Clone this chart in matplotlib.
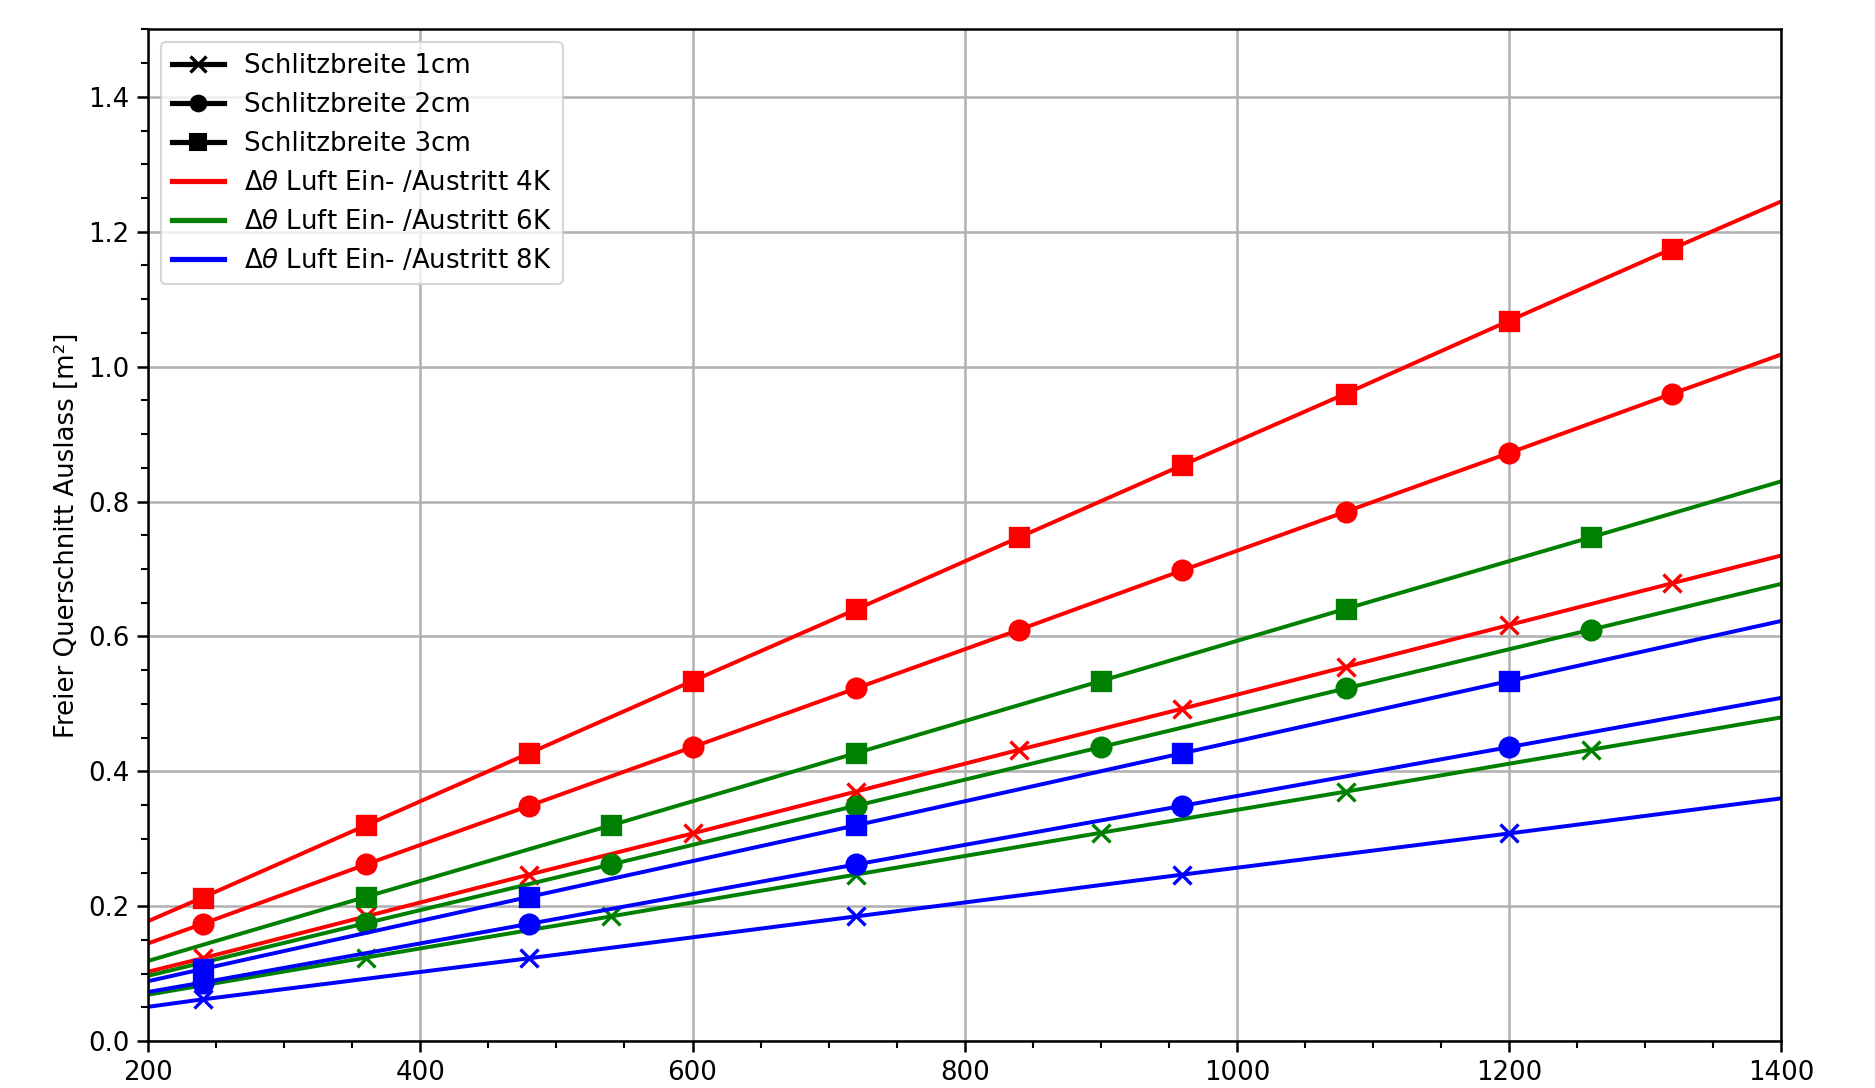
import matplotlib
matplotlib.use("Agg")
import matplotlib.pyplot as plt
from matplotlib.lines import Line2D

x_4k = [200, 240, 360, 480, 600, 720, 840, 960, 1080, 1200, 1320, 1400]
y_4k_1cm = [0.103, 0.123, 0.185, 0.247, 0.308, 0.370, 0.432, 0.493, 0.555, 0.617, 0.679, 0.720]
y_4k_2cm = [0.145, 0.174, 0.262, 0.349, 0.436, 0.523, 0.610, 0.698, 0.785, 0.872, 0.960, 1.018]
y_4k_3cm = [0.178, 0.213, 0.320, 0.427, 0.534, 0.640, 0.747, 0.854, 0.960, 1.068, 1.175, 1.245]

x_6k = [200, 360, 540, 720, 900, 1080, 1260, 1400]
y_6k_1cm = [0.069, 0.124, 0.185, 0.247, 0.309, 0.370, 0.432, 0.480]
y_6k_2cm = [0.097, 0.175, 0.262, 0.349, 0.436, 0.523, 0.610, 0.678]
y_6k_3cm = [0.119, 0.214, 0.320, 0.427, 0.534, 0.641, 0.747, 0.830]

x_8k = [200, 240, 480, 720, 960, 1200, 1400]
y_8k_1cm = [0.051, 0.062, 0.123, 0.185, 0.247, 0.308, 0.360]
y_8k_2cm = [0.073, 0.087, 0.174, 0.262, 0.349, 0.436, 0.509]
y_8k_3cm = [0.089, 0.107, 0.214, 0.320, 0.427, 0.534, 0.623]

series = [
    ("red", x_4k, [y_4k_1cm, y_4k_2cm, y_4k_3cm]),
    ("green", x_6k, [y_6k_1cm, y_6k_2cm, y_6k_3cm]),
    ("blue", x_8k, [y_8k_1cm, y_8k_2cm, y_8k_3cm]),
]
markers = ["x", "o", "s"]

fig = plt.figure(figsize=(12.5, 1088 / 150), dpi=150)
ax = fig.add_axes([0.079, 0.043, 0.871, 0.930])

for col, xs, ys in series:
    for y, m in zip(ys, markers):
        ax.plot(xs, y, color=col, lw=1.9, marker=m, ms=9,
                markevery=list(range(1, len(xs) - 1)), mew=1.6)

ax.set_xlim(200, 1400)
ax.set_ylim(0, 1.5)
ax.set_yticks([0.0, 0.2, 0.4, 0.6, 0.8, 1.0, 1.2, 1.4])
ax.minorticks_on()
ax.grid(True, which="major", color="#b0b0b0", lw=1.2)
ax.tick_params(labelsize=12.5, width=1.2, length=5.5)
ax.tick_params(which="minor", width=1.0, length=3.2)
for s in ax.spines.values():
    s.set_linewidth(1.2)
ax.set_ylabel("Freier Querschnitt Auslass [m²]", fontsize=12.5)

handles = [
    Line2D([], [], color="black", lw=2.5, marker="x", ms=7.5, mew=1.6),
    Line2D([], [], color="black", lw=2.5, marker="o", ms=7.5),
    Line2D([], [], color="black", lw=2.5, marker="s", ms=7.5),
    Line2D([], [], color="red", lw=2.5),
    Line2D([], [], color="green", lw=2.5),
    Line2D([], [], color="blue", lw=2.5),
]
labels = [
    "Schlitzbreite 1cm",
    "Schlitzbreite 2cm",
    "Schlitzbreite 3cm",
    r"$\Delta\theta$ Luft Ein- /Austritt 4K",
    r"$\Delta\theta$ Luft Ein- /Austritt 6K",
    r"$\Delta\theta$ Luft Ein- /Austritt 8K",
]
ax.legend(handles, labels, loc="upper left", fontsize=12.5)

fig.savefig("out.png", dpi=150)
